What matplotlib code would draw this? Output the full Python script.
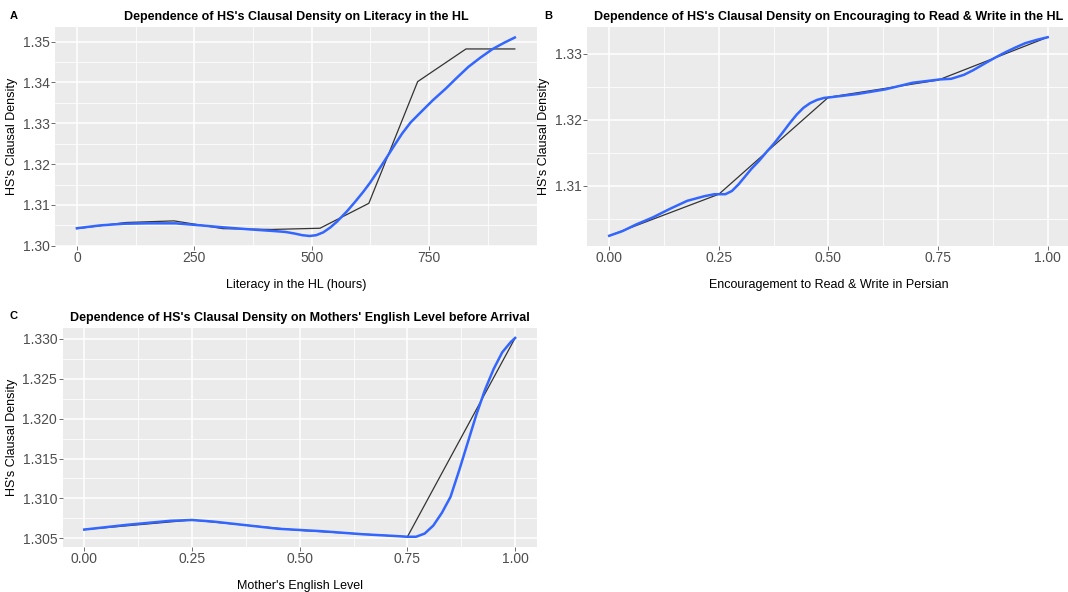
import numpy as np
import matplotlib
matplotlib.use('Agg')
import matplotlib.pyplot as plt
from matplotlib.ticker import FixedLocator

## ggplot-ish styling
matplotlib.rcParams['font.family'] = ['Liberation Sans', 'DejaVu Sans']
matplotlib.rcParams['axes.facecolor'] = '#EBEBEB'
matplotlib.rcParams['axes.edgecolor'] = 'none'
matplotlib.rcParams['xtick.color'] = '#333333'
matplotlib.rcParams['ytick.color'] = '#333333'
matplotlib.rcParams['xtick.labelcolor'] = '#4D4D4D'
matplotlib.rcParams['ytick.labelcolor'] = '#4D4D4D'
matplotlib.rcParams['xtick.major.size'] = 2.75
matplotlib.rcParams['ytick.major.size'] = 2.75
matplotlib.rcParams['xtick.major.width'] = 0.5
matplotlib.rcParams['ytick.major.width'] = 0.5
matplotlib.rcParams['xtick.labelsize'] = 10
matplotlib.rcParams['ytick.labelsize'] = 10
matplotlib.rcParams['axes.labelsize'] = 9

# Panel A: literacy in the HL (hours)
lit_x = [0, 104, 207, 311, 415, 518, 622, 726, 829, 933]
lit_y = [1.3042, 1.3057, 1.3061, 1.3042, 1.3040, 1.3043, 1.3104, 1.3402, 1.3482, 1.3482]
lit_smooth_x = [0, 50, 100, 150, 210, 264, 314, 371, 421, 444, 464, 480, 496, 510,
                525, 540, 554, 575, 593, 610, 625, 643, 661, 677, 693, 711, 730,
                758, 786, 810, 834, 860, 886, 910, 933]
lit_smooth_y = [1.3043, 1.3050, 1.3054, 1.3055, 1.3055, 1.3050, 1.3045, 1.3040,
                1.3036, 1.3034, 1.3030, 1.3026, 1.3024, 1.3026, 1.3033, 1.3045,
                1.3059, 1.3084, 1.3108, 1.3132, 1.3155, 1.3186, 1.3218, 1.3247,
                1.3275, 1.3302, 1.3324, 1.3356, 1.3385, 1.3412, 1.3438, 1.3461,
                1.3482, 1.3497, 1.3510]

# Panel B: encouragement to read & write
enc_x = [0.0, 0.25, 0.50, 0.75, 1.0]
enc_y = [1.3024, 1.3087, 1.3234, 1.3260, 1.3325]
enc_smooth_x = [0.0, 0.03, 0.061, 0.10, 0.139, 0.178, 0.217, 0.24, 0.252, 0.265,
                0.28, 0.295, 0.31, 0.325, 0.341, 0.36, 0.376, 0.395, 0.412, 0.428,
                0.443, 0.458, 0.474, 0.49, 0.505, 0.567, 0.63, 0.692, 0.754, 0.78,
                0.809, 0.83, 0.856, 0.88, 0.903, 0.925, 0.949, 0.975, 1.0]
enc_smooth_y = [1.3024, 1.3031, 1.3041, 1.3052, 1.3065, 1.3077, 1.3084, 1.3087,
                1.3087, 1.3087, 1.3092, 1.3102, 1.3114, 1.3126, 1.3137, 1.3152,
                1.3164, 1.3180, 1.3195, 1.3208, 1.3218, 1.3225, 1.3230, 1.3233,
                1.3234, 1.3239, 1.3246, 1.3256, 1.3261, 1.3262, 1.3268, 1.3275,
                1.3285, 1.3294, 1.3302, 1.3309, 1.3316, 1.3321, 1.3325]

# Panel C: mother's English level
eng_x = [0.0, 0.25, 0.50, 0.75, 1.0]
eng_y = [1.3061, 1.3073, 1.3060, 1.3052, 1.3301]
eng_smooth_x = [0.0, 0.1, 0.2, 0.25, 0.3, 0.35, 0.45, 0.55, 0.65, 0.72, 0.75,
                0.77, 0.79, 0.81, 0.83, 0.85, 0.87, 0.89, 0.91, 0.93, 0.95,
                0.97, 0.99, 1.0]
eng_smooth_y = [1.3061, 1.3067, 1.3072, 1.3073, 1.3071, 1.3068, 1.3062, 1.3059,
                1.3055, 1.3053, 1.3052, 1.3052, 1.3056, 1.3066, 1.3082, 1.3102,
                1.3135, 1.3170, 1.3205, 1.3236, 1.3262, 1.3283, 1.3296, 1.3301]

W, H = 1068, 592
fig = plt.figure(figsize=(W / 100, H / 100), dpi=100)


def box(l, t, r, b):
    return [l / W, 1 - b / H, (r - l) / W, (b - t) / H]


def style(ax, xmaj, xmin, ymaj, ymin, xfmt, yfmt, ylim=None):
    ax.xaxis.set_major_locator(FixedLocator(xmaj))
    ax.xaxis.set_minor_locator(FixedLocator(xmin))
    ax.yaxis.set_major_locator(FixedLocator(ymaj))
    ax.yaxis.set_minor_locator(FixedLocator(ymin))
    ax.set_xticklabels([xfmt.format(v) for v in xmaj])
    ax.set_yticklabels([yfmt.format(v) for v in ymaj])
    ax.tick_params(which='minor', length=0)
    ax.tick_params(which='major', pad=1.2)
    ax.grid(which='major', color='white', linewidth=1.1)
    ax.grid(which='minor', color='white', linewidth=0.55)
    ax.set_axisbelow(True)
    ax.margins(0.05)
    if ylim is not None:
        ax.set_ylim(*ylim)


def panel(rect, x, y, sx, sy, title, xlabel, letter, lx, ly):
    ax = fig.add_axes(box(*rect))
    ax.plot(x, y, color='#333333', linewidth=0.9)
    ax.plot(sx, sy, color='#3366FF', linewidth=1.8)
    ax.set_title(title, fontsize=9, fontweight='bold', pad=5)
    ax.set_xlabel(xlabel, labelpad=10)
    ax.set_ylabel("HS's Clausal Density", labelpad=3.5)
    fig.text(lx / W, 1 - ly / H, letter, fontsize=8, fontweight='bold',
             ha='center', va='center')
    return ax


axA = panel((55, 27.3, 536.7, 246), lit_x, lit_y, lit_smooth_x, lit_smooth_y,
            "Dependence of HS's Clausal Density on Literacy in the HL",
            "Literacy in the HL (hours)", 'A', 14, 16)
style(axA, [0, 250, 500, 750], [125, 375, 625, 875],
      [1.30, 1.31, 1.32, 1.33, 1.34, 1.35],
      [1.305, 1.315, 1.325, 1.335, 1.345], '{:g}', '{:.2f}',
      ylim=(1.29995, 1.3535))

axB = panel((587.3, 27.3, 1069.6, 245.7), enc_x, enc_y, enc_smooth_x, enc_smooth_y,
            "Dependence of HS's Clausal Density on Encouraging to Read & Write in the HL",
            "Encouragement to Read & Write in Persian", 'B', 548, 16)
style(axB, [0, 0.25, 0.5, 0.75, 1.0], [0.125, 0.375, 0.625, 0.875],
      [1.31, 1.32, 1.33], [1.305, 1.315, 1.325], '{:.2f}', '{:.2f}')

axC = panel((62.7, 328, 536.7, 546.7), eng_x, eng_y, eng_smooth_x, eng_smooth_y,
            "Dependence of HS's Clausal Density on Mothers' English Level before Arrival",
            "Mother's English Level", 'C', 14, 316)
style(axC, [0, 0.25, 0.5, 0.75, 1.0], [0.125, 0.375, 0.625, 0.875],
      [1.305, 1.310, 1.315, 1.320, 1.325, 1.330],
      [1.3075, 1.3125, 1.3175, 1.3225, 1.3275], '{:.2f}', '{:.3f}')

fig.savefig('out.png', dpi=100)
